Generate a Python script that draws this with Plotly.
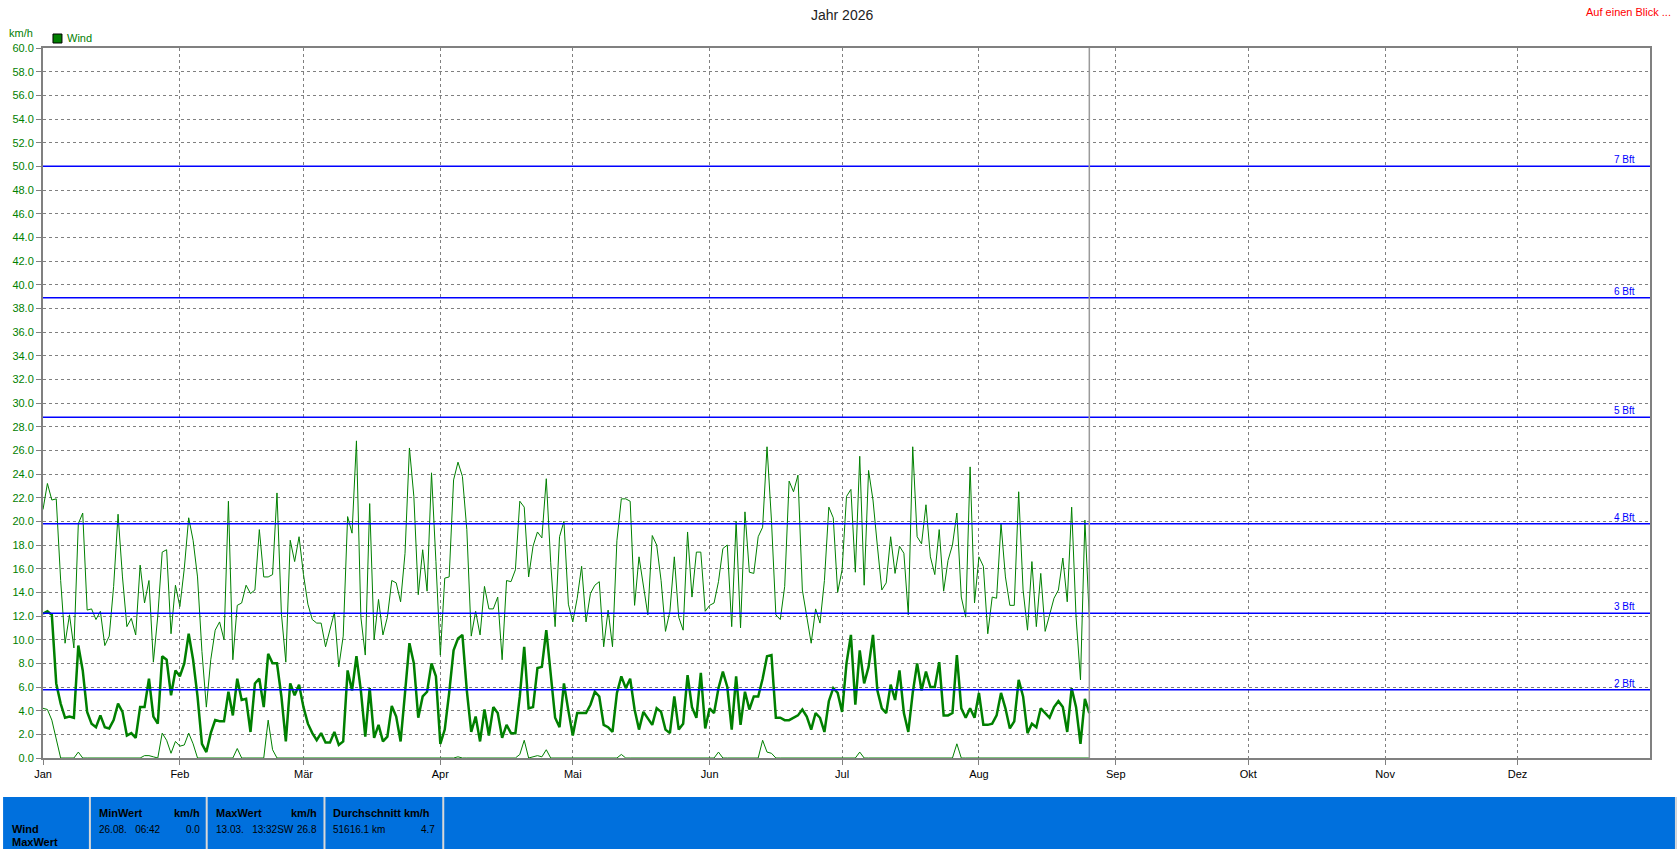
##########################################
# Wind year chart (daily min / avg / max) #
##########################################

import pandas as pd
import plotly.graph_objects as go

# daily wind values in km/h, 01.01. - 26.08.
wind_max = [
    21.0, 23.2, 21.8, 21.9, 15.0, 9.7, 12.1, 9.3, 19.8, 20.7,
    12.5, 12.6, 11.7, 12.4, 9.5, 10.3, 14.5, 20.6, 15.3, 11.1,
    11.8, 10.4, 16.3, 13.1, 15.0, 8.1, 12.0, 17.4, 17.6, 10.5,
    14.6, 12.8, 16.0, 20.3, 18.4, 15.3, 9.0, 4.3, 8.3, 10.8,
    11.5, 10.0, 21.7, 8.3, 12.9, 13.1, 14.6, 13.9, 14.2, 19.3,
    15.3, 15.3, 15.5, 22.4, 12.2, 8.1, 18.4, 16.6, 18.7, 15.5,
    13.0, 11.7, 11.4, 11.4, 9.4, 10.8, 12.3, 7.7, 10.3, 20.4,
    19.0, 26.8, 11.9, 8.7, 21.5, 10.0, 13.4, 10.4, 11.9, 15.0,
    14.8, 13.2, 17.3, 26.2, 22.1, 13.8, 17.6, 14.1, 24.1, 16.6,
    8.7, 15.2, 15.3, 23.5, 25.0, 23.8, 19.3, 10.3, 12.4, 10.4,
    14.5, 12.6, 12.6, 13.6, 8.3, 15.0, 14.9, 15.9, 21.7, 21.2,
    15.3, 17.9, 19.1, 18.6, 23.6, 16.5, 11.1, 18.7, 20.0, 13.0,
    11.5, 13.5, 16.2, 11.5, 13.9, 14.6, 14.9, 9.4, 12.5, 9.4,
    18.4, 21.9, 21.9, 21.7, 12.9, 17.0, 14.5, 12.1, 18.8, 18.0,
    15.0, 10.7, 12.4, 17.0, 11.9, 10.8, 19.1, 13.6, 17.4, 17.4,
    12.4, 12.9, 13.1, 14.9, 17.7, 18.0, 11.1, 20.0, 11.0, 20.8,
    15.7, 15.6, 18.7, 19.5, 26.3, 20.1, 12.1, 11.7, 14.5, 23.4,
    22.5, 23.9, 14.2, 11.9, 9.7, 12.6, 11.4, 15.0, 21.2, 20.3,
    14.0, 15.9, 22.1, 22.7, 15.7, 25.5, 14.6, 24.3, 21.8, 17.9,
    14.2, 14.8, 18.7, 15.6, 17.9, 17.3, 12.1, 26.3, 18.7, 18.1,
    21.4, 17.0, 15.5, 19.3, 14.1, 16.7, 18.0, 20.7, 13.6, 11.9,
    24.6, 13.1, 17.0, 16.2, 10.5, 13.6, 13.5, 19.8, 15.3, 12.9,
    12.9, 22.5, 14.2, 10.8, 16.6, 11.1, 15.6, 10.7, 12.2, 13.5,
    14.2, 16.9, 13.2, 21.2, 11.9, 6.6, 20.1, 11.8,
]

wind_avg = [
    12.2, 12.4, 12.1, 6.3, 4.6, 3.4, 3.5, 3.4, 9.5, 7.4,
    3.9, 2.9, 2.6, 3.6, 2.6, 2.5, 3.2, 4.6, 3.9, 1.9,
    2.1, 1.7, 4.3, 4.3, 6.7, 3.5, 2.9, 8.6, 8.3, 5.3,
    7.4, 6.9, 8.0, 10.5, 8.3, 5.2, 1.2, 0.5, 2.1, 3.2,
    3.1, 3.1, 5.6, 3.6, 6.7, 4.9, 5.0, 2.2, 6.3, 6.7,
    4.3, 8.8, 8.0, 8.0, 5.2, 1.4, 6.3, 5.3, 6.2, 4.3,
    2.9, 2.1, 1.5, 2.1, 1.3, 1.3, 2.2, 1.1, 1.4, 7.4,
    5.7, 8.6, 5.7, 1.8, 5.9, 1.7, 2.8, 1.4, 1.8, 4.4,
    3.5, 1.4, 5.5, 9.7, 8.0, 3.4, 5.2, 5.6, 8.0, 6.9,
    1.2, 2.4, 5.5, 9.1, 10.1, 10.4, 5.7, 2.2, 3.5, 1.4,
    4.1, 1.9, 4.3, 3.8, 1.7, 2.8, 2.1, 2.1, 5.2, 9.4,
    4.2, 4.3, 7.6, 7.7, 10.8, 7.2, 3.4, 2.6, 6.3, 4.0,
    1.9, 3.8, 3.8, 3.8, 4.5, 5.6, 5.2, 2.8, 2.6, 2.2,
    5.5, 6.9, 5.9, 6.7, 4.1, 2.4, 3.9, 3.4, 2.8, 4.2,
    3.9, 2.4, 2.1, 5.2, 2.4, 2.9, 7.0, 4.3, 3.4, 7.2,
    2.5, 4.2, 3.8, 5.9, 7.3, 6.0, 2.4, 6.9, 2.8, 5.6,
    4.1, 5.2, 5.2, 6.7, 8.6, 8.7, 3.4, 3.4, 3.2, 3.2,
    3.4, 3.6, 4.1, 3.5, 2.4, 3.8, 3.4, 2.2, 4.8, 5.9,
    5.5, 3.9, 8.0, 10.4, 4.5, 9.1, 6.3, 7.7, 10.4, 5.7,
    4.2, 3.8, 6.2, 4.9, 7.4, 3.8, 2.2, 5.5, 8.0, 5.7,
    7.3, 6.0, 6.0, 8.1, 3.6, 3.6, 3.8, 8.7, 4.2, 3.4,
    4.2, 3.4, 5.5, 2.8, 2.8, 2.9, 3.6, 5.5, 4.2, 2.5,
    3.1, 6.6, 5.2, 2.1, 2.9, 2.6, 4.2, 3.8, 3.4, 4.3,
    4.8, 4.3, 2.2, 5.9, 4.3, 1.2, 5.0, 3.8,
]

wind_min = [
    4.2, 4.1, 3.2, 1.5, 0.0, 0.0, 0.0, 0.0, 0.5, 0.0,
    0.0, 0.0, 0.0, 0.0, 0.0, 0.0, 0.0, 0.0, 0.0, 0.0,
    0.0, 0.0, 0.0, 0.2, 0.2, 0.1, 0.0, 2.1, 1.5, 0.4,
    1.4, 1.0, 1.1, 2.1, 1.2, 0.0, 0.0, 0.0, 0.0, 0.0,
    0.0, 0.0, 0.0, 0.0, 0.8, 0.0, 0.0, 0.0, 0.0, 0.0,
    0.0, 3.2, 0.7, 0.0, 0.0, 0.0, 0.0, 0.0, 0.0, 0.0,
    0.0, 0.0, 0.0, 0.0, 0.0, 0.0, 0.0, 0.0, 0.0, 0.0,
    0.0, 0.0, 0.0, 0.0, 0.0, 0.0, 0.0, 0.0, 0.0, 0.0,
    0.0, 0.0, 0.0, 0.0, 0.0, 0.0, 0.0, 0.0, 0.0, 0.0,
    0.0, 0.0, 0.0, 0.0, 0.1, 0.0, 0.0, 0.0, 0.0, 0.0,
    0.0, 0.0, 0.0, 0.0, 0.0, 0.0, 0.0, 0.0, 0.3, 1.5,
    0.0, 0.1, 0.2, 0.1, 0.7, 0.0, 0.0, 0.0, 0.0, 0.0,
    0.0, 0.0, 0.0, 0.0, 0.0, 0.0, 0.0, 0.0, 0.0, 0.0,
    0.0, 0.3, 0.0, 0.0, 0.0, 0.0, 0.0, 0.0, 0.0, 0.0,
    0.0, 0.0, 0.0, 0.0, 0.0, 0.0, 0.0, 0.0, 0.0, 0.0,
    0.0, 0.0, 0.0, 0.5, 0.0, 0.0, 0.0, 0.0, 0.0, 0.0,
    0.0, 0.0, 0.0, 1.5, 0.5, 0.4, 0.0, 0.0, 0.0, 0.0,
    0.0, 0.0, 0.0, 0.0, 0.0, 0.0, 0.0, 0.0, 0.0, 0.0,
    0.0, 0.0, 0.0, 0.0, 0.0, 0.5, 0.0, 0.0, 0.0, 0.0,
    0.0, 0.0, 0.0, 0.0, 0.0, 0.0, 0.0, 0.0, 0.0, 0.0,
    0.0, 0.0, 0.0, 0.0, 0.0, 0.0, 0.0, 1.2, 0.0, 0.0,
    0.0, 0.0, 0.0, 0.0, 0.0, 0.0, 0.0, 0.0, 0.0, 0.0,
    0.0, 0.0, 0.0, 0.0, 0.0, 0.0, 0.0, 0.0, 0.0, 0.0,
    0.0, 0.0, 0.0, 0.0, 0.0, 0.0, 0.0, 0.0,
]

# month axis
month_starts = ["2026-%02d-01" % m for m in range(1, 13)]
month_names = ["Jan", "Feb", "Mär", "Apr", "Mai", "Jun",
               "Jul", "Aug", "Sep", "Okt", "Nov", "Dez"]
today = "2026-08-26"

# beaufort limits (km/h)
bft_levels = [5.76, 12.24, 19.8, 28.8, 38.9, 50.0]
bft_labels = ["2 Bft", "3 Bft", "4 Bft", "5 Bft", "6 Bft", "7 Bft"]

# summary box
summary_rows = ["Wind", "MaxWert"]
min_wert = ("26.08.\u00a0\u00a0 06:42", "0.0")
max_wert = ("13.03.\u00a0\u00a0 13:32SW", "26.8")
mittel = ("51616.1 km", "4.7")

GREEN = "#008000"
GRID = "#808080"
FONT = "Liberation Sans, Arial, sans-serif"

W, H = 1677, 849
L, R, T, B = 40, 1650, 48, 758


def px_x(px):
    # pixel -> paper x
    return (px - L) / (R - L)


def px_y(py):
    # pixel -> paper y
    return (B - py) / (B - T)


days = pd.date_range("2026-01-01", periods=len(wind_avg), freq="D")

fig = go.Figure()
fig.add_trace(go.Scatter(x=days, y=wind_max, mode="lines",
                         line=dict(color=GREEN, width=1), name="Max"))
fig.add_trace(go.Scatter(x=days, y=wind_min, mode="lines",
                         line=dict(color=GREEN, width=1), name="Min"))
fig.add_trace(go.Scatter(x=days, y=wind_avg, mode="lines",
                         line=dict(color=GREEN, width=2.5), name="Wind"))

shapes = []
annotations = []


def txt(x, y, s, anchor="left", bold=False, color="black", size=11):
    # text placed in pixel positions of the page
    if bold:
        s = "<b>" + s + "</b>"
    annotations.append(dict(xref="paper", yref="paper", x=px_x(x), y=px_y(y),
                            text=s, showarrow=False, xanchor=anchor,
                            yanchor="middle",
                            font=dict(family=FONT, size=size, color=color)))


# beaufort lines with labels
for lvl, lab in zip(bft_levels, bft_labels):
    shapes.append(dict(type="line", xref="paper", yref="y", x0=0, x1=1,
                       y0=lvl, y1=lvl, line=dict(color="#0000FF", width=1.5),
                       layer="above"))
    annotations.append(dict(xref="paper", yref="y", x=px_x(1637), y=lvl,
                            text=lab, showarrow=False, xanchor="right",
                            yanchor="bottom", yshift=-1,
                            font=dict(family=FONT, size=10, color="#0000FF")))

# current day marker
shapes.append(dict(type="line", xref="x", yref="paper", x0=today, x1=today,
                   y0=0, y1=1, line=dict(color="#9a9a9a", width=1.5)))

# legend box
shapes.append(dict(type="rect", xref="paper", yref="paper",
                   x0=px_x(50), x1=px_x(59), y0=px_y(43), y1=px_y(34),
                   fillcolor=GREEN, line=dict(color="black", width=1)))
txt(62, 38.5, "Wind", color=GREEN)

# unit, title, link
txt(4, 33, "km/h", color=GREEN)
txt(840, 15, "Jahr 2026", "center", color="#222222", size=14)
txt(1673, 12, "Auf einen Blick ...", "right", color="#FF0000")

# summary panel at the bottom
shapes.append(dict(type="rect", xref="paper", yref="paper",
                   x0=px_x(0), x1=px_x(W), y0=px_y(H), y1=px_y(797),
                   fillcolor="#0070DD", line=dict(width=0), layer="below"))
for sx in [87, 204, 322, 441, 1676]:
    shapes.append(dict(type="line", xref="paper", yref="paper",
                       x0=px_x(sx), x1=px_x(sx), y0=px_y(H), y1=px_y(797),
                       line=dict(color="#d8d8d8", width=2)))

txt(7, 829, summary_rows[0], bold=True)
txt(7, 842, summary_rows[1], bold=True)
txt(94, 813, "MinWert", bold=True)
txt(199, 813, "km/h", "right", bold=True)
txt(94, 829, min_wert[0], size=10)
txt(199, 829, min_wert[1], "right", size=10)
txt(211, 813, "MaxWert", bold=True)
txt(317, 813, "km/h", "right", bold=True)
txt(211, 829, max_wert[0], size=10)
txt(317, 829, max_wert[1], "right", size=10)
txt(329, 813, "Durchschnitt km/h", bold=True)
txt(329, 829, mittel[0], size=10)
txt(435, 829, mittel[1], "right", size=10)

fig.update_layout(
    width=W, height=H,
    margin=dict(l=L, r=W - R, t=T, b=H - B),
    plot_bgcolor="white", paper_bgcolor="white",
    showlegend=False, hovermode=False,
    font=dict(family=FONT, size=11),
    shapes=shapes, annotations=annotations,
)
fig.update_xaxes(type="date", range=["2026-01-01", "2026-12-31"],
                 tickvals=month_starts, ticktext=month_names,
                 tickfont=dict(family=FONT, size=11, color="black"),
                 showgrid=True, gridcolor=GRID, griddash="3px,3px", gridwidth=1,
                 showline=True, linecolor=GRID, linewidth=2, mirror=True,
                 ticks="outside", ticklen=5, tickcolor=GRID, zeroline=False)
fig.update_yaxes(range=[0, 60], dtick=2, tick0=0, tickformat=".1f",
                 tickfont=dict(family=FONT, size=11, color=GREEN),
                 showgrid=True, gridcolor=GRID, griddash="3px,3px", gridwidth=1,
                 showline=True, linecolor=GRID, linewidth=2, mirror=True,
                 ticks="outside", ticklen=5, tickcolor=GRID, zeroline=False)

fig.write_html("out.html", config={"displayModeBar": False},
               post_script="document.body.style.margin='0';")
